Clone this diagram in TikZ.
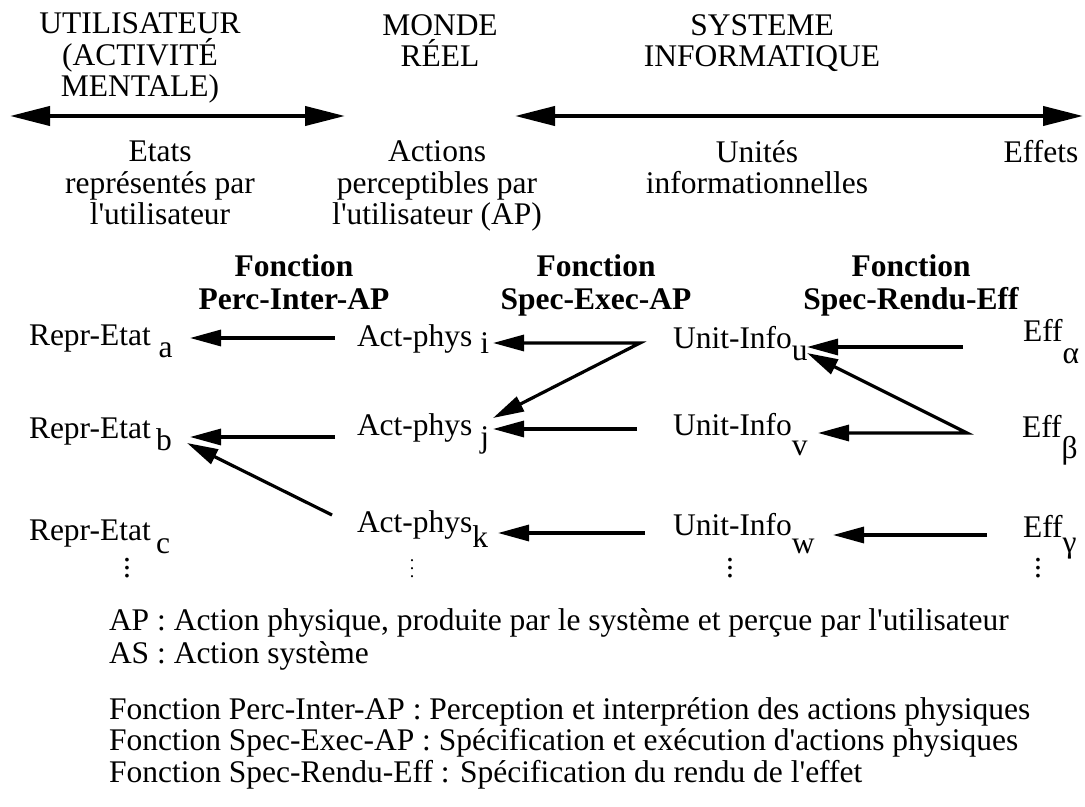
\documentclass[tikz,border=0pt]{standalone}
\usepackage{fontspec}
\setmainfont{Liberation Serif}[Ligatures=TeXOff]
\usepackage{tikz}
\usetikzlibrary{positioning}
\usetikzlibrary{calc}
\usetikzlibrary{arrows.meta}

% lowered index, as in the figure
\newcommand{\lowr}[2]{\raisebox{-#1pt}{#2}}

\tikzset{
  txt/.style={inner sep=0pt, outer sep=0pt, anchor=base west, font=\fontsize{15.75}{15.75}\selectfont},
  blk/.style={inner sep=0pt, anchor=base, align=center, font=\fontsize{15.75}{15.75}\selectfont},
  fct/.style={inner sep=0pt, anchor=base, align=center, font=\fontsize{15.75}{16.5}\selectfont\bfseries},
  dots/.style={inner sep=0pt, anchor=base, font=\fontsize{15.75}{15.75}\selectfont},
  flow/.style={-{Triangle[length=15.5pt,width=8pt]}, line width=1.6pt},
  fork/.style={{Triangle[length=15.5pt,width=8pt]}-{Triangle[length=15.5pt,width=8pt]}, line width=1.6pt, line join=miter},
  span/.style={{Triangle[length=20pt,width=9.5pt]}-{Triangle[length=20pt,width=9.5pt]}, line width=2pt},
}

\begin{document}
\begin{tikzpicture}[x=0.5pt, y=-0.5pt]
    \useasboundingbox (0,0) rectangle (1085,807);

    % Define nodes (a block sits on the baseline of its last line)
    \node[blk] (util)  at (140,97)  {UTILISATEUR\\(ACTIVITÉ\\MENTALE)};
    \node[blk] (monde) at (440,67)  {MONDE\\RÉEL};
    \node[blk] (sys)   at (762,67)  {SYSTEME\\INFORMATIQUE};

    \coordinate (ul) at (10,116);
    \coordinate (ur) at (345,116);
    \coordinate (sl) at (515,116);
    \coordinate (sr) at (1083,116);

    \node[blk] (etats)   at (160,225)  {Etats\\représentés par\\l'utilisateur};
    \node[blk] (actions) at (437,225)  {Actions\\perceptibles par\\l'utilisateur (AP)};
    \node[blk] (unites)  at (757,194)  {Unités\\informationnelles};
    \node[blk] (effets)  at (1041,163) {Effets};

    \node[fct] (fpi) at (294,309) {Fonction\\Perc-Inter-AP};
    \node[fct] (fse) at (596,309) {Fonction\\Spec-Exec-AP};
    \node[fct] (fsr) at (911,309) {Fonction\\Spec-Rendu-Eff};

    \node[txt] (ra) at (29,345)   {Repr-Etat\ \lowr{6}{a}};
    \node[txt] (rb) at (29,438)   {Repr-Etat\,\lowr{6}{b}};
    \node[txt] (rc) at (29,540)   {Repr-Etat\,\lowr{6.5}{c}};
    \node[txt] (ai) at (357,346)  {Act-phys\ \lowr{3.5}{i}};
    \node[txt] (aj) at (357,435)  {Act-phys\ \lowr{6}{j}};
    \node[txt] (ak) at (357,532)  {Act-phys\lowr{7.5}{k}};
    \node[txt] (uu) at (673,348)  {Unit-Info\lowr{6}{u}};
    \node[txt] (uv) at (673,435)  {Unit-Info\lowr{10}{v}};
    \node[txt] (uw) at (673,535)  {Unit-Info\lowr{9}{w}};
    \node[txt] (ea) at (1023,342) {Eff\lowr{10.5}{α}};
    \node[txt] (eb) at (1022,437) {Eff\lowr{10.5}{β}};
    \node[txt] (eg) at (1023,537) {Eff\lowr{7.5}{γ}};

    \node[dots] (dr) at (127,577)  {$\vdots$};
    \node[dots, font=\fontsize{9}{9}\selectfont] (da) at (412,577) {$\vdots$};
    \node[dots] (du) at (730,577)  {$\vdots$};
    \node[dots] (de) at (1038,577) {$\vdots$};

    \node[txt] (lap) at (109,630) {AP : Action physique, produite par le système et perçue par l'utilisateur};
    \node[txt, below=16.5pt of lap.base west, anchor=base west] (las) {AS : Action système};
    \node[txt, below=28pt of las.base west, anchor=base west] (lpi) {Fonction Perc-Inter-AP : Perception et interprétion des actions physiques};
    \node[txt, below=15.75pt of lpi.base west, anchor=base west] (lse) {Fonction Spec-Exec-AP : Spécification et exécution d'actions physiques};
    \node[txt, below=15.75pt of lse.base west, anchor=base west] (lsr) {Fonction Spec-Rendu-Eff : Spécification du rendu de l'effet};

    % Connect the nodes
    \draw[span] (ul) -- (ur);
    \draw[span] (sl) -- (sr);

    \draw[flow] ($(ai.base west)+(-22,-8)$) -- ($(ra.base west)+(161,-7)$);
    \draw[flow] ($(aj.base west)+(-22,2)$) -- ($(rb.base west)+(161,-1)$);
    \draw[flow] ($(ak.base west)+(-25,-17)$) -- ($(rb.base west)+(158,5)$);

    \draw[fork] ($(ai.base west)+(136,-3)$) -- ($(uu.base west)+(-33,-5)$) -- ($(aj.base west)+(136,-17)$);
    \draw[flow] ($(uv.base west)+(-36,-6)$) -- ($(aj.base west)+(136,-6)$);
    \draw[flow] ($(uw.base west)+(-28,-2)$) -- ($(ak.base west)+(141,1)$);

    \draw[flow] ($(ea.base west)+(-60,5)$) -- ($(uu.base west)+(134,-1)$);
    \draw[fork] ($(uv.base west)+(145,-2)$) -- ($(eb.base west)+(-55,-4)$) -- ($(uu.base west)+(134,5)$);
    \draw[flow] ($(eg.base west)+(-36,-2)$) -- ($(uw.base west)+(160,0)$);

\end{tikzpicture}
\end{document}
